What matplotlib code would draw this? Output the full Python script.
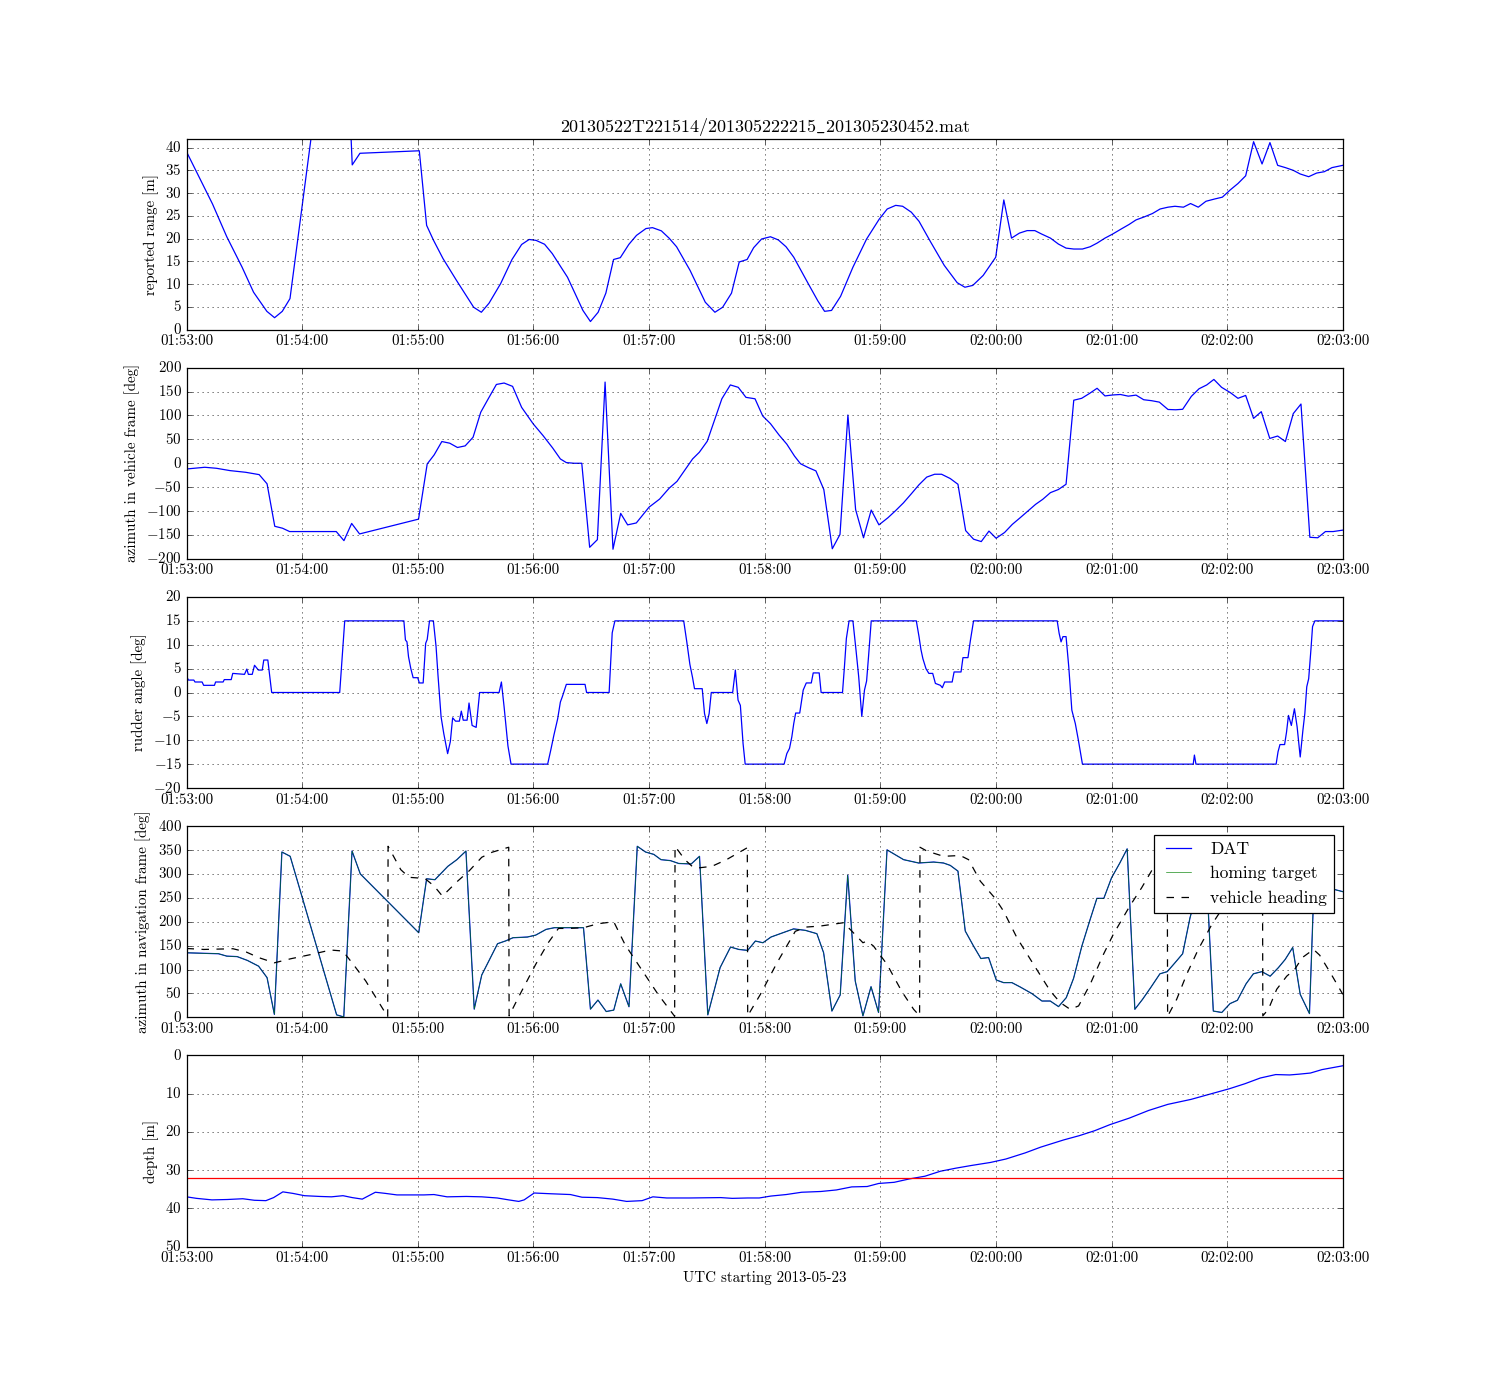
import datetime as dt
import matplotlib
matplotlib.use("Agg")
import matplotlib.pyplot as plt
import matplotlib.dates as mdates

plt.style.use("classic")
plt.rcParams["font.family"] = ["cmr10", "DejaVu Serif"]
plt.rcParams["mathtext.fontset"] = "cm"
plt.rcParams["axes.formatter.use_mathtext"] = True
plt.rcParams["figure.facecolor"] = "white"
plt.rcParams["savefig.facecolor"] = "white"

start = dt.datetime(2013, 5, 23, 1, 53, 0)
# cmr10 has no underscore glyph, so let mathtext draw it
title = r"20130522T221514/201305222215$\_$201305230452.mat"

# seconds after 01:53:00
range_t = [0, 13.5, 20.9, 28.8, 34.8, 41.7, 45.7, 49.7, 53.7, 66.0, 85.0, 86.0, 90.0, 120.8, 124.6,
           128.2, 133.1, 140.1, 149.0, 153.0, 157.0, 163.0, 168.9, 173.9, 177.8, 181.4, 185.8, 189.8,
           197.7, 205.7, 209.6, 213.6, 217.6, 221.6, 225.1, 229.5, 233.5, 238.4, 241.8, 246.4, 250.4,
           254.3, 261.3, 269.2, 274.2, 278.2, 282.8, 286.8, 290.9, 294.3, 298.4, 303.0, 307.1, 311.1,
           315.1, 322.6, 327.6, 331.1, 334.7, 339.4, 345.8, 352.9, 359.5, 363.6, 368.0, 371.6, 376.1,
           380.1, 386.2, 393.2, 399.9, 403.9, 408.0, 413.4, 419.9, 424.1, 428.1, 432.2, 436.2, 440.2,
           443.7, 448.3, 452.4, 456.4, 460.4, 464.9, 468.9, 472.5, 476.6, 480.6, 485.0, 489.1, 492.7,
           497.2, 501.2, 505.2, 509.3, 512.9, 517.3, 521.0, 525.0, 529.0, 533.5, 537.5, 541.6, 545.6,
           549.6, 553.7, 558.1, 562.2, 566.2, 570.2, 574.3, 577.9, 582.3, 586.4, 590.4, 594.4, 600]
range_m = [39.1, 27.6, 20.4, 13.75, 8.2, 4.0, 2.6, 4.0, 6.8, 46.5, 46.0, 36.2, 38.75, 39.3, 22.9,
           19.6, 15.6, 10.8, 4.9, 3.8, 5.8, 10.1, 15.4, 18.7, 19.8, 19.6, 18.75, 16.7,
           11.5, 4.2, 1.76, 3.8, 8.0, 15.4, 15.8, 18.7, 20.7, 22.2, 22.4, 21.7, 20.1,
           18.2, 13.0, 6.0, 3.8, 4.9, 8.0, 14.85, 15.4, 18.0, 19.9, 20.4, 19.7, 18.2,
           15.9, 10.1, 6.3, 4.0, 4.2, 7.3, 13.7, 19.9, 24.3, 26.5, 27.3, 27.1, 25.8,
           23.8, 19.2, 14.1, 10.3, 9.3, 9.7, 11.9, 15.9, 28.5, 20.1, 21.2, 21.75, 21.75,
           21.0, 20.1, 18.8, 17.9, 17.7, 17.7, 18.2, 19.0, 20.1, 21.0, 22.1, 23.1, 24.1,
           24.8, 25.5, 26.5, 26.9, 27.1, 26.9, 27.7, 26.9, 28.2, 28.7, 29.1, 30.7, 32.1,
           33.8, 41.3, 36.4, 41.1, 36.1, 35.6, 35.0, 34.2, 33.6, 34.4, 34.7, 35.6, 36.1]

azv_t = [0, 9.5, 15.5, 22.6, 30.7, 37.7, 41.8, 45.8, 49.8, 53.5, 66.0, 77.7, 81.7, 85.7, 89.8, 120.4,
         124.9, 128.5, 132.5, 136.6, 140.6, 144.6, 148.7, 152.7, 156.3, 160.8, 164.8, 169.2, 173.9,
         179.9, 185.0, 190.0, 194.0, 197.1, 201.1, 205.1, 209.2, 213.2, 217.2, 221.3, 225.3, 228.9,
         233.4, 240.0, 245.5, 250.5, 254.5, 262.6, 266.1, 270.2, 277.8, 282.2, 286.3, 290.3, 295.0,
         299.0, 303.0, 307.5, 311.5, 315.5, 318.6, 322.6, 326.6, 330.7, 335.1, 339.1, 343.2, 347.2,
         351.3, 355.3, 359.3, 364.0, 368.0, 372.0, 376.1, 380.1, 384.1, 388.2, 391.8, 396.3, 400.3,
         404.3, 408.4, 412.4, 416.4, 420.1, 424.5, 428.5, 432.6, 436.6, 440.6, 444.3, 448.3, 452.4,
         456.4, 460.4, 464.5, 468.5, 472.5, 476.6, 480.6, 484.6, 488.7, 492.7, 496.7, 500.8, 504.8,
         509.3, 513.3, 516.9, 521.4, 525.4, 529.4, 533.1, 537.1, 541.6, 545.6, 549.6, 553.7, 557.7,
         562.1, 566.2, 570.2, 574.3, 578.3, 582.9, 587.0, 591.0, 595.0, 600]
azv_deg = [-12, -8.4, -10.5, -15.4, -18.9, -23.8, -43, -132, -136, -143, -143, -143, -162, -126, -148, -117,
           -1.4, 17.5, 45.5, 42, 33, 36.4, 54.5, 107, 133, 165, 168, 161, 117,
           82.5, 58, 32, 9, 1.4, 0, 0, -176, -160, 170, -180, -105, -129,
           -125, -92, -75, -52, -38, 9, 23, 46, 135, 164, 159, 138, 135,
           99, 83, 59, 40, 15, -1, -9, -16, -55, -179, -149, 101, -97,
           -156, -98, -129, -114, -99, -83, -64, -45, -29, -23, -23, -32, -44,
           -141, -159, -164, -142, -157, -145, -128, -114, -100, -86, -75.5, -61.5, -55,
           -44, 132, 136, 146, 157, 141, 143, 144, 140.5, 142.7, 133, 131, 128,
           112.6, 112, 113, 140, 156, 164, 175.5, 159, 148, 136, 142, 94, 108,
           52, 57, 45.5, 104, 124, -155, -156, -143, -143, -140]

rud_t = [0, 1.0, 3.8, 4.4, 8.1, 8.9, 14.5, 15.1, 19.0, 19.6, 23.2, 24.0, 30.1, 31.3, 32.1, 34.1, 35.3,
         37.3, 39.3, 40.1, 42.2, 44.2, 79.5, 82.1, 112.8, 113.6, 114.4, 115.2, 116.4, 117.6, 120.0,
         120.8, 122.8, 124.1, 124.9, 126.1, 128.1, 129.5, 130.5, 132.1, 133.5, 135.5, 136.9, 138.1,
         139.6, 141.6, 142.6, 143.6, 145.6, 146.6, 148.2, 150.3, 152.1, 162.2, 163.4, 164.8, 166.8,
         168.4, 187.4, 189.0, 190.6, 192.6, 194.0, 195.0, 197.1, 206.8, 207.6, 219.3, 220.9, 222.3,
         258.0, 259.6, 261.2, 262.6, 263.6, 267.6, 268.8, 270.0, 271.2, 272.3, 283.4, 284.8, 286.2,
         287.4, 288.8, 289.9, 310.1, 311.5, 312.9, 314.1, 315.1, 316.1, 318.2, 319.2, 320.0, 321.6,
         324.2, 325.2, 328.3, 329.3, 340.4, 341.4, 342.4, 343.8, 345.8, 347.4, 348.8, 350.4, 351.8,
         352.9, 353.9, 355.3, 378.7, 380.1, 381.1, 382.1, 383.7, 385.2, 387.2, 388.6, 391.2, 392.2,
         393.4, 397.3, 398.3, 401.9, 402.9, 405.5, 406.8, 408.4, 451.8, 452.8, 453.8, 454.8, 456.4,
         457.8, 459.4, 461.2, 462.8, 464.9, 522.4, 523.0, 523.8, 565.4, 566.4, 567.4, 569.8, 570.8,
         571.8, 573.3, 574.9, 576.3, 577.9, 579.3, 580.3, 581.3, 582.3, 583.5, 584.3, 585.5, 600]
rud_deg = [3.4, 2.6, 2.6, 2.2, 2.2, 1.5, 1.5, 2.2, 2.2, 2.7, 2.7, 4.0, 3.8, 4.9, 3.8, 3.8, 5.7,
           4.7, 4.7, 6.8, 6.8, 0, 0, 15, 15, 11, 10.6, 7.5, 5, 3.1, 3.1,
           2.0, 2.0, 10.3, 11.1, 15, 15, 9.6, 3.6, -5.1, -8.6, -12.8, -10.3, -5.3,
           -6.0, -6.0, -3.9, -5.8, -5.8, -2.2, -6.9, -7.3, 0, 0, 2.2, -3.0, -11.2,
           -15, -15, -12.1, -9.0, -5.5, -2.0, -0.9, 1.7, 1.7, 0, 0, 12.5, 15,
           15, 10.6, 5.9, 3.1, 0.8, 0.8, -4.4, -6.5, -4.4, 0, 0, 4.7, -1.6,
           -2.7, -10.7, -15, -15, -12.8, -11.7, -9.3, -6.5, -4.3, -4.3, -1.6, 0.5, 2.0,
           2.0, 4.1, 4.1, 0, 0, 5.4, 11.3, 15, 15, 8.9, 3.3, -5, 0.5,
           2.4, 7.5, 15, 15, 11.7, 9.0, 7.1, 5.0, 4.0, 4.0, 1.9, 1.5, 1.0,
           2.2, 2.2, 4.3, 4.3, 7.3, 7.3, 11.0, 15, 15, 12.4, 10.6, 11.7, 11.7,
           5.4, -3.7, -6.5, -10, -15, -15, -13.1, -15, -15, -12.4, -10.9, -10.9, -8.3,
           -4.8, -6.9, -3.4, -7.2, -13.5, -7.9, -4.4, 1.2, 2.9, 9.2, 13.8, 15, 15]

dat_t = [0, 16.6, 20.9, 26.3, 31.6, 37.4, 41.8, 45.6, 49.5, 53.8, 77.9, 81.6, 85.9, 90.2, 120.5, 124.6,
         128.9, 135.6, 140.3, 145.0, 149.3, 153.2, 161.4, 165.7, 169.4, 176.9, 181.2, 186.6, 190.9,
         206.0, 209.6, 213.5, 217.8, 221.7, 225.3, 229.6, 233.9, 238.2, 242.5, 246.2, 251.1, 255.4,
         261.9, 266.2, 270.5, 276.9, 282.3, 286.6, 291.2, 295.2, 299.1, 303.3, 308.1, 315.0, 321.1,
         327.1, 330.6, 334.9, 339.2, 343.1, 347.0, 351.0, 355.2, 359.1, 363.5, 372.1, 379.9, 387.7,
         392.8, 396.3, 400.3, 404.1, 408.4, 412.2, 416.2, 420.2, 424.0, 428.3, 432.6, 438.7, 443.9,
         448.2, 452.5, 456.5, 460.3, 464.6, 468.6, 472.4, 476.0, 480.0, 484.3, 488.1, 492.1, 496.1,
         500.3, 505.1, 508.9, 512.9, 516.9, 520.7, 523.3, 528.8, 532.8, 537.2, 541.5, 545.3, 549.8,
         553.6, 558.0, 562.3, 566.6, 570.1, 574.0, 577.9, 582.7, 585.0, 595.2, 600]
dat_deg = [135, 133, 128, 127, 119, 107, 83, 6, 346, 337, 5, 0.7, 348, 300, 177, 290,
           288, 316, 330, 348, 17, 88.5, 154, 160, 166.5, 168, 172, 184, 187.5,
           187.5, 17, 36, 12, 15, 70, 22, 358, 346, 341, 330, 328, 322,
           321, 337, 5, 104, 147, 142, 140, 159.6, 156, 168, 175, 185, 182,
           175, 135, 13, 46.7, 297.6, 76, 3, 64, 10, 350.5, 330, 323, 325,
           323, 318, 306, 180.5, 149, 123, 125, 78, 72.5, 72.5, 63.4, 49.5, 34,
           34, 22.3, 41, 81.5, 149, 201, 249, 249, 292, 323, 352.6, 16.7, 37.6,
           62, 91, 95.5, 114, 133, 208, 247, 335, 13, 10, 28.6, 35.5, 70,
           91, 95.5, 86, 104, 121, 146, 48, 7.7, 270, 268, 263]

head_t = [0, 9.0, 24.1, 31.0, 37.4, 45.6, 54.2, 65.0, 74.7, 81.1, 86.5, 93.0, 104.4, 104.6, 111.2,
          115.5, 123.7, 128.5, 132.8, 140.3, 146.8, 153.2, 158.6, 167.2, 167.4, 172.6, 181.2, 187.7,
          193.0, 198.4, 206.0, 213.5, 221.7, 227.5, 236.1, 244.7, 253.3, 253.5, 258.6, 262.9, 266.2,
          272.6, 280.2, 291.0, 291.2, 297.8, 306.4, 315.9, 322.0, 328.9, 341.0, 345.3, 351.0, 353.1,
          356.5, 363.5, 371.2, 377.3, 380.4, 380.6, 384.2, 392.8, 401.5, 405.8, 411.9, 419.6, 424.0,
          430.9, 439.5, 448.2, 453.4, 458.5, 462.9, 468.9, 475.8, 480.9, 489.5, 495.6, 501.7, 508.9,
          509.1, 513.8, 519.0, 525.0, 532.0, 537.7, 558.3, 558.5, 561.4, 565.7, 570.9, 575.0, 579.0,
          584.8, 588.0, 594.0, 600]
head_deg = [144, 142, 143.5, 136.6, 125, 114, 122.6, 131.7, 140.8, 138.7, 111, 76, 1, 358, 309,
            293, 290.6, 274.6, 253.7, 283.6, 307, 335, 345.6, 356, 3, 44.6, 110.8, 156,
            186, 186, 187.5, 195.8, 200, 152.6, 100, 48, 2, 358, 330, 314, 313,
            316, 330, 355, 3, 48, 114, 180, 189, 191, 198, 180, 156, 159.6,
            149, 110.8, 53.7, 16.7, 3, 356, 348, 337, 338.7, 330, 285, 249, 222,
            166.6, 110.8, 55, 30.7, 16.7, 23.7, 69, 131.7, 173.5, 233, 271, 313, 359,
            2, 37.6, 90, 142, 194, 229, 359, 3, 16.7, 58.5, 86, 100, 125,
            142, 130, 90, 48]

depth_t = [0, 5.2, 13.2, 21.2, 29.2, 35.2, 41.2, 45.2, 50.0, 55.2, 61.2, 69.2, 75.2, 81.2, 86.0, 91.2,
           98.0, 103.2, 109.2, 117.2, 123.2, 128.4, 135.2, 145.2, 153.2, 161.2, 167.2, 172.4, 175.2,
           180.4, 189.2, 199.2, 205.2, 213.2, 221.2, 228.4, 236.4, 242.0, 249.2, 261.2, 277.2, 283.2,
           291.2, 297.2, 303.2, 311.2, 319.2, 329.2, 337.2, 345.2, 353.2, 359.2, 367.2, 375.2, 383.2,
           391.2, 399.2, 407.2, 417.2, 425.2, 435.2, 443.2, 455.2, 463.2, 471.2, 479.2, 489.2, 499.2,
           509.2, 521.2, 531.2, 541.2, 549.2, 557.2, 565.2, 572.4, 577.2, 583.2, 589.2, 600]
depth_m = [37.0, 37.4, 37.8, 37.7, 37.5, 37.9, 38.0, 37.2, 35.7, 36.1, 36.7, 36.9, 37.0, 36.7, 37.2, 37.6,
           35.8, 36.1, 36.5, 36.5, 36.5, 36.4, 37.0, 36.9, 37.0, 37.3, 37.8, 38.2, 37.8,
           36.0, 36.2, 36.4, 37.1, 37.2, 37.6, 38.2, 38.0, 37.0, 37.3, 37.3, 37.2, 37.4,
           37.3, 37.3, 36.8, 36.4, 35.8, 35.6, 35.2, 34.4, 34.3, 33.5, 33.2, 32.3, 31.6,
           30.3, 29.5, 28.8, 28.0, 27.1, 25.5, 24.0, 22.1, 21.0, 19.7, 18.1, 16.4, 14.4,
           12.8, 11.5, 10.1, 8.7, 7.4, 5.9, 5.0, 5.1, 4.9, 4.6, 3.7, 2.7]
target_depth = 32


def to_time(secs):
    return [start + dt.timedelta(seconds=s) for s in secs]


fig, axes = plt.subplots(5, 1, figsize=(1492 / 90, 1385 / 90), dpi=90)

axes[0].plot(to_time(range_t), range_m, "b-")
axes[0].set_ylim(0, 42)
axes[0].set_ylabel("reported range [m]")
axes[0].set_title(title)

axes[1].plot(to_time(azv_t), azv_deg, "b-")
axes[1].set_ylim(-200, 200)
axes[1].set_ylabel("azimuth in vehicle frame [deg]")

axes[2].plot(to_time(rud_t), rud_deg, "b-")
axes[2].set_ylim(-20, 20)
axes[2].set_ylabel("rudder angle [deg]")

axes[3].plot(to_time(dat_t), dat_deg, "b-", label="DAT")
axes[3].plot(to_time(dat_t), dat_deg, "g-", lw=0.5, label="homing target")
axes[3].plot(to_time(head_t), head_deg, "k--", label="vehicle heading")
axes[3].set_ylim(0, 400)
axes[3].set_ylabel("azimuth in navigation frame [deg]")
axes[3].legend(loc="upper right", fontsize=14)

axes[4].plot(to_time(depth_t), depth_m, "b-")
axes[4].axhline(target_depth, color="r")
axes[4].set_ylim(50, 0)
axes[4].set_ylabel("depth [m]")
axes[4].set_xlabel("UTC starting 2013-05-23")

for ax in axes:
    ax.set_xlim(start, start + dt.timedelta(minutes=10))
    ax.xaxis.set_major_locator(mdates.MinuteLocator())
    ax.xaxis.set_major_formatter(mdates.DateFormatter("%H:%M:%S"))
    ax.grid(True)

fig.savefig("out.png", dpi=90)
